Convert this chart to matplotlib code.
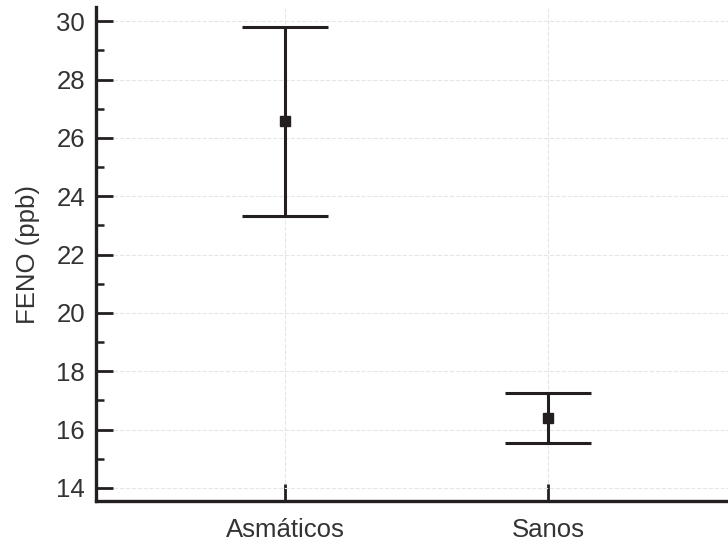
import matplotlib
matplotlib.use("Agg")
import matplotlib.pyplot as plt
from matplotlib.ticker import MultipleLocator

categories = ["Asmáticos", "Sanos"]
means = [26.58, 16.40]
upper = [29.79, 17.26]
lower = [23.32, 15.55]

plt.rcParams['font.family'] = ['Liberation Sans', 'DejaVu Sans']

fig = plt.figure(figsize=(7.28, 5.42), dpi=100)
ax = fig.add_axes([0.132, 0.0756, 0.868, 0.911])

x = list(range(len(categories)))
yerr = [[m - l for m, l in zip(means, lower)], [u - m for m, u in zip(means, upper)]]
ax.errorbar(x, means, yerr=yerr, fmt='s', color='#231f20', ecolor='#231f20',
            elinewidth=2.2, capsize=31, capthick=2.2, markersize=6.5, zorder=3)

ax.set_xlim(-0.72, 1.685)
ax.set_ylim(13.55, 30.48)
ax.set_xticks(x)
ax.set_xticklabels(categories)
ax.yaxis.set_major_locator(MultipleLocator(2))
ax.yaxis.set_minor_locator(MultipleLocator(1))
ax.set_ylabel("FENO (ppb)", fontsize=18.5, color='#333333', labelpad=12)

for s in ['top', 'right']:
    ax.spines[s].set_visible(False)
for s in ['left', 'bottom']:
    ax.spines[s].set_linewidth(2.4)
    ax.spines[s].set_color('#231f20')

ax.tick_params(axis='both', which='major', direction='in', length=12, width=2,
               color='#231f20', labelsize=18.5, labelcolor='#333333')
ax.tick_params(axis='y', which='major', pad=8)
ax.tick_params(axis='x', which='major', pad=12)
ax.tick_params(axis='y', which='minor', direction='in', length=6, width=1.8, color='#231f20')
ax.tick_params(axis='x', which='minor', bottom=False)
ax.grid(True, which='major', color='#e6e6e6', linestyle='--', linewidth=0.8)
ax.set_axisbelow(True)

fig.savefig("out.png", dpi=100)
